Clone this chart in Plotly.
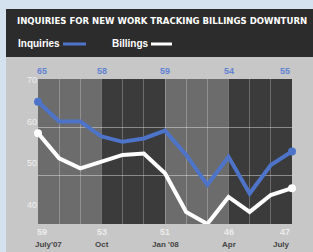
import plotly.graph_objects as go

# ---- data ----
months = ["July'07", "Aug", "Sep", "Oct", "Nov", "Dec", "Jan '08", "Feb", "Mar", "Apr", "May", "Jun", "July"]
inquiries = [65.3, 61.2, 61.2, 58.1, 57.0, 57.7, 59.3, 54.3, 48.1, 53.9, 46.3, 52.2, 55.0]
billings = [58.8, 53.6, 51.5, 52.9, 54.3, 54.6, 50.5, 42.5, 40.0, 45.6, 42.5, 46.0, 47.4]
tick_idx = [0, 3, 6, 9, 12]
tick_labels = ["July'07", "Oct", "Jan '08", "Apr", "July"]
inq_labels = ["65", "58", "59", "54", "55"]
bill_labels = ["59", "53", "51", "46", "47"]
y_ticks = [40, 50, 60, 70]
grid_vals = [50, 60]

title = "INQUIRIES FOR NEW WORK TRACKING BILLINGS DOWNTURN"

# ---- layout geometry (pixels) ----
FW, FH = 313, 252
L, T, R, B = 38, 79, 21, 28
W, H = FW - L - R, FH - T - B


def px(x):
    return (x - L) / W


def py(y):
    return (T + H - y) / H


BLUE = "#4d74c9"
BLUE_TXT = "#6183d3"
PANEL = "#c7c7c7"
SKY = "#d4e2f0"
HEADER = "#2c2c2c"
MED = "#6c6c6c"
DARK = "#3b3b3b"

xs = list(range(len(months)))

fig = go.Figure()
fig.add_trace(go.Scatter(x=xs, y=inquiries, mode="lines", line=dict(color=BLUE, width=4),
                         cliponaxis=False, hoverinfo="skip", showlegend=False))
fig.add_trace(go.Scatter(x=[xs[0], xs[-1]], y=[inquiries[0], inquiries[-1]], mode="markers",
                         marker=dict(color=BLUE, size=8), cliponaxis=False, showlegend=False))
fig.add_trace(go.Scatter(x=xs, y=billings, mode="lines", line=dict(color="white", width=4),
                         cliponaxis=False, hoverinfo="skip", showlegend=False))
fig.add_trace(go.Scatter(x=[xs[0], xs[-1]], y=[billings[0], billings[-1]], mode="markers",
                         marker=dict(color="white", size=8), cliponaxis=False, showlegend=False))
# invisible trace for label axis
fig.add_trace(go.Scatter(x=[0], y=[50], yaxis="y2", mode="markers", marker=dict(opacity=0),
                         hoverinfo="skip", showlegend=False))

shapes = []
# backgrounds
shapes.append(dict(type="rect", xref="paper", yref="paper", x0=px(0), x1=px(6), y0=py(FH), y1=py(0),
                   fillcolor=SKY, line_width=0, layer="below"))
shapes.append(dict(type="rect", xref="paper", yref="paper", x0=px(0), x1=px(FW), y0=py(9), y1=py(0),
                   fillcolor=SKY, line_width=0, layer="below"))
shapes.append(dict(type="rect", xref="paper", yref="paper", x0=px(6), x1=px(FW), y0=py(57), y1=py(9),
                   fillcolor=HEADER, line_width=0, layer="below"))
# quarter bands
for q in range(len(tick_idx) - 1):
    shapes.append(dict(type="rect", xref="x", yref="paper", x0=tick_idx[q], x1=tick_idx[q + 1], y0=0, y1=1,
                       fillcolor=MED if q % 2 == 0 else DARK, line_width=0, layer="below"))
# legend swatches
shapes.append(dict(type="line", xref="paper", yref="paper", x0=px(63), x1=px(86), y0=py(44), y1=py(44),
                   line=dict(color=BLUE, width=3)))
shapes.append(dict(type="line", xref="paper", yref="paper", x0=px(151), x1=px(172), y0=py(44), y1=py(44),
                   line=dict(color="white", width=3)))

ann = []
ann.append(dict(text="<b>" + title + "</b>", xref="paper", yref="paper", x=px(15), y=py(20),
                xanchor="left", yanchor="middle", showarrow=False,
                font=dict(family="DejaVu Sans Condensed, Roboto, sans-serif", size=9.5, color="white")))
ann.append(dict(text="<b>Inquiries</b>", xref="paper", yref="paper", x=px(16), y=py(44),
                xanchor="left", yanchor="middle", showarrow=False,
                font=dict(family="Liberation Sans, Arial, sans-serif", size=10, color="white")))
ann.append(dict(text="<b>Billings</b>", xref="paper", yref="paper", x=px(110), y=py(44),
                xanchor="left", yanchor="middle", showarrow=False,
                font=dict(family="Liberation Sans, Arial, sans-serif", size=10, color="white")))

n = len(tick_idx)
for i, (ix, il, bl, ml) in enumerate(zip(tick_idx, inq_labels, bill_labels, tick_labels)):
    anchor = "left" if i == 0 else ("right" if i == n - 1 else "center")
    shift = -3 if i == 0 else 0
    ann.append(dict(text="<b>" + il + "</b>", xref="x", yref="paper", x=ix, y=py(71), xanchor=anchor,
                    xshift=shift, yanchor="middle", showarrow=False,
                    font=dict(family="Liberation Sans, Arial, sans-serif", size=9, color=BLUE_TXT)))
    ann.append(dict(text="<b>" + bl + "</b>", xref="x", yref="paper", x=ix, y=py(232), xanchor=anchor,
                    xshift=shift, yanchor="middle", showarrow=False,
                    font=dict(family="Liberation Sans, Arial, sans-serif", size=9, color="#ececec")))
    ann.append(dict(text="<b>" + ml + "</b>", xref="x", yref="paper", x=ix, y=py(244), xanchor=anchor,
                    xshift=-5 if i == 0 else 0, yanchor="middle", showarrow=False,
                    font=dict(family="Liberation Sans, Arial, sans-serif", size=8, color="#454545")))

fig.update_layout(
    width=FW, height=FH,
    margin=dict(l=L, r=R, t=T, b=B, pad=0),
    paper_bgcolor=PANEL, plot_bgcolor=DARK,
    shapes=shapes, annotations=ann,
    xaxis=dict(range=[0, 12], tickvals=xs, showticklabels=False, showgrid=True,
               gridcolor="rgba(255,255,255,0.25)", gridwidth=1, zeroline=False, showline=False, ticks=""),
    yaxis=dict(range=[40, 70], tickvals=grid_vals, showticklabels=False, showgrid=True,
               gridcolor="rgba(255,255,255,0.4)", gridwidth=1, zeroline=False, showline=False, ticks=""),
    yaxis2=dict(overlaying="y", side="left", range=[35.4, 70.2], tickvals=y_ticks,
                showgrid=False, zeroline=False, showline=False, ticks="",
                tickfont=dict(family="Liberation Sans, Arial, sans-serif", size=9, color="#efefef")),
)

fig.write_html("out.html", config={"displayModeBar": False},
               post_script="document.body.style.margin='0';document.body.style.overflow='hidden';")
